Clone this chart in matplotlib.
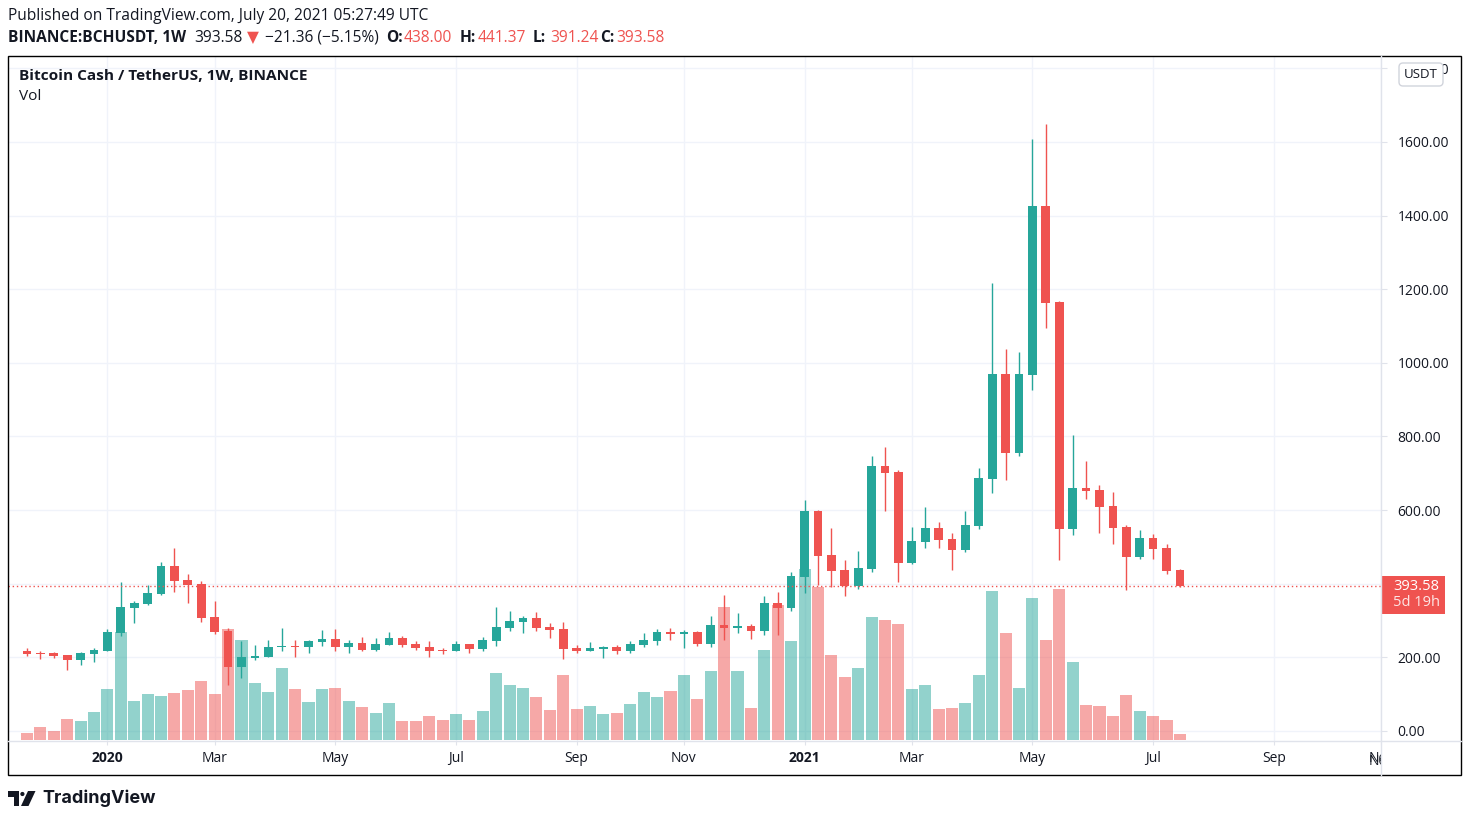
import numpy as np
import pandas as pd
import matplotlib
matplotlib.use("Agg")
import matplotlib.pyplot as plt
import matplotlib.transforms as mtransforms
from matplotlib.patches import Rectangle, FancyBboxPatch, Polygon, Circle

# BINANCE:BCHUSDT weekly candles, first bar = week of 2019-11-25
start_week = "2019-11-25"
opens = [217.3, 211.9, 211.9, 206.5, 193.7, 210.0, 218.1, 267.0, 335.0, 345.8,
         372.0, 448.2, 410.2, 399.3, 309.7, 271.7, 174.7, 198.3, 201.0, 229.0,
         230.9, 228.2, 241.8, 249.9, 228.2, 239.0, 220.0, 233.6, 252.6, 236.3,
         228.2, 220.0, 217.3, 236.3, 222.8, 244.5, 279.8, 296.1, 307.0, 282.5,
         277.0, 225.5, 217.3, 222.8, 228.2, 217.3, 233.6, 244.5, 268.9, 263.5,
         268.9, 236.3, 288.0, 279.8, 285.2, 271.7, 347.7, 334.0, 418.3, 597.6,
         478.1, 437.4, 393.9, 440.0, 719.9, 703.6, 456.4, 513.4, 551.5, 521.6,
         491.7, 556.9, 685.4, 969.8, 756.0, 967.0, 1426.0, 1165.4, 549.6, 660.1,
         654.7, 611.2, 554.2, 472.7, 524.3, 497.1, 438.00]
highs = [224.7, 217.3, 214.6, 206.5, 214.6, 225.5, 277.0, 404.7, 353.0, 396.6,
         459.0, 497.0, 426.5, 407.5, 353.0, 279.8, 244.5, 233.6, 247.2, 279.8,
         247.2, 247.2, 274.4, 277.0, 247.2, 255.4, 252.6, 268.9, 258.0, 244.5,
         244.5, 225.5, 244.5, 236.3, 255.4, 336.8, 326.0, 312.4, 323.3, 293.4,
         296.1, 233.6, 241.8, 230.9, 233.6, 244.5, 266.2, 277.0, 279.8, 274.4,
         271.7, 312.4, 369.4, 320.5, 290.7, 366.7, 377.6, 432.0, 627.5, 600.3,
         551.5, 464.5, 489.0, 747.0, 771.5, 709.0, 554.2, 608.5, 567.7, 537.9,
         597.6, 714.4, 1217.0, 1037.7, 1029.5, 1608.0, 1649.0, 1167.0, 804.0, 733.5,
         668.3, 649.2, 559.6, 546.0, 535.2, 508.0, 441.37]
lows = [204.6, 196.4, 199.1, 166.5, 180.0, 188.0, 218.1, 259.0, 294.0, 342.3,
        369.4, 377.6, 347.7, 296.0, 263.5, 125.8, 144.8, 192.9, 201.0, 217.3,
        201.0, 211.9, 230.9, 217.3, 211.9, 217.3, 217.3, 233.6, 228.2, 220.0,
        201.0, 209.2, 217.3, 211.9, 217.3, 230.9, 271.7, 266.2, 271.7, 252.6,
        195.6, 211.9, 217.3, 198.3, 209.2, 211.9, 228.2, 233.6, 247.2, 225.5,
        230.9, 228.2, 247.2, 266.2, 249.9, 260.8, 260.8, 326.0, 374.9, 396.6,
        391.2, 366.7, 385.7, 432.0, 597.6, 404.7, 453.7, 497.0, 497.0, 437.4,
        486.3, 548.7, 647.0, 681.8, 747.8, 926.3, 1094.7, 464.5, 532.4, 630.2,
        537.9, 508.0, 383.0, 467.2, 467.2, 426.5, 391.24]
closes = [210.0, 210.0, 204.6, 193.7, 211.9, 220.0, 268.9, 336.8, 347.7, 374.9,
          448.2, 407.5, 396.6, 307.0, 269.0, 174.7, 201.0, 203.7, 228.2, 231.7,
          229.0, 244.5, 249.9, 228.2, 239.0, 220.0, 236.3, 252.6, 233.6, 225.5,
          217.3, 218.1, 236.3, 222.8, 247.2, 282.5, 298.8, 307.0, 279.8, 274.4,
          222.8, 217.3, 225.5, 228.2, 217.3, 236.3, 247.2, 268.9, 263.5, 268.9,
          236.3, 288.0, 279.8, 285.2, 271.7, 347.7, 334.0, 421.0, 597.6, 475.4,
          434.6, 393.9, 442.8, 719.9, 700.9, 456.4, 516.1, 551.5, 518.8, 491.7,
          559.6, 687.3, 969.8, 756.0, 969.8, 1426.0, 1163.5, 549.6, 660.1, 652.0,
          608.5, 551.5, 472.7, 524.3, 494.4, 434.6, 393.58]
# volume, relative units
volumes = [7, 13, 9, 21, 19, 28, 51, 108, 39, 46, 44, 47, 50, 59, 46, 111, 100, 57,
           48, 72, 51, 38, 51, 52, 39, 33, 27, 37, 19, 19, 24, 20, 26, 20,
           29, 67, 55, 52, 43, 30, 65, 31, 34, 26, 27, 36, 48, 43, 49, 65, 41, 69,
           133, 69, 32, 90, 135, 99, 171, 153, 85, 63, 72, 123, 120, 116, 51, 55, 31,
           32, 37, 65, 149, 107, 52, 142, 100, 151, 78, 35, 34, 24, 45, 29, 24, 20, 6]
price_ticks = [0, 200, 400, 600, 800, 1000, 1200, 1400, 1600, 1800]
last_price = 393.58
countdown = "5d 19h"

UP = "#26a69a"
DOWN = "#ef5350"
TXT = "#131722"
GRID = "#f0f3fa"
SEP = "#e0e3eb"
FONT = ["Open Sans", "DejaVu Sans"]
plt.rcParams["font.family"] = FONT

W, H = 1470, 822
fig = plt.figure(figsize=(W / 100, H / 100), dpi=100)


def fx(px):
    return px / W


def fy(py):
    return 1 - py / H


# plot area in pixels
L, R, T, B = 8, 1381, 56, 741
rect = [fx(L), fy(B), fx(R) - fx(L), fy(T) - fy(B)]
vol_ax = fig.add_axes(rect)
vol_ax.set_axis_off()
vol_ax.set_ylim(-1, 684)
ax = fig.add_axes(rect)
ax.patch.set_alpha(0)

n = len(closes)
x = np.arange(n)
o = np.array(opens)
c = np.array(closes)
h = np.array(highs)
lo = np.array(lows)
up = c >= o
cols = np.where(up, UP, DOWN)

# volume bars use the price x axis and their own y scale
vol_trans = mtransforms.blended_transform_factory(ax.transData, vol_ax.transData)
ax.bar(x, volumes, width=0.9, color=cols, alpha=0.5, linewidth=0,
       transform=vol_trans, zorder=1)

# candles
ax.vlines(x, lo, h, colors=cols, linewidth=1, zorder=2)
body = np.maximum(np.abs(c - o), 3)
ax.bar(x, body, bottom=np.minimum(o, c), width=0.65, color=cols, linewidth=0, zorder=3)

ax.axhline(last_price, color=DOWN, lw=1, ls=(0, (1, 2)), zorder=4)

ax.set_xlim(-1.416, 100.9)
ax.set_ylim(-27.2, 1833.6)

# time axis: first weekly bar of every odd month
dates = pd.date_range(start_week, periods=105, freq="W-MON")
tick_idx = [i for i in range(1, len(dates))
            if dates[i].month != dates[i - 1].month and dates[i].month % 2 == 1]
tick_lab = [str(dates[i].year) if dates[i].month == 1 else dates[i].strftime("%b")
            for i in tick_idx]
ax.set_xticks(tick_idx)
ax.set_xticklabels(tick_lab)
for t, lab in zip(ax.get_xticklabels(), tick_lab):
    if lab.isdigit():
        t.set_fontweight("bold")
ax.tick_params(axis="x", length=3, color=SEP, pad=4, labelsize=10, labelcolor=TXT)

# the 400 label sits under the last-price tag, as on the reference
ax.yaxis.tick_right()
ax.set_yticks(price_ticks)
ax.set_yticklabels(["" if v == 400 else f"{v:.2f}" for v in price_ticks])
ax.tick_params(axis="y", length=4, color=SEP, pad=8, labelsize=10, labelcolor=TXT)

ax.grid(True, color=GRID, lw=1, zorder=0)
ax.set_axisbelow(True)
for s in ax.spines.values():
    s.set_visible(False)

# month label cut by the price scale: drawn, then partly covered below
pix = mtransforms.IdentityTransform()
tick_top = ax.get_xaxis_transform()
for i in [i for i in tick_idx if i > 100.9]:
    ax.text(i, -0.0195, dates[i].strftime("%b"), ha="center", va="top",
            fontsize=10, color=TXT, transform=tick_top, clip_on=False)
fig.add_artist(Rectangle((R + 0.5, H - 774), 1460 - R, 774 - B - 1, fc="white", ec="none",
                         transform=pix, zorder=3))

# frame and separators
fig.add_artist(Rectangle((8, H - 775), 1453, 719, fill=False, ec="#000000", lw=1,
                         transform=pix, zorder=4))
fig.add_artist(plt.Line2D([R, R], [H - 775, H - 56], color=SEP, lw=1, transform=pix, zorder=4))
fig.add_artist(plt.Line2D([8, 1461], [H - B, H - B], color=SEP, lw=1, transform=pix, zorder=4))

# last price tag
ppu = (ax.get_ylim()[1] - ax.get_ylim()[0]) / (B - T)
trans_y = ax.get_yaxis_transform()
ax.add_patch(FancyBboxPatch((1.0, last_price - 27.5 * ppu), 64 / (R - L), 38 * ppu,
                            boxstyle="square,pad=0", fc=DOWN, ec="none",
                            transform=trans_y, clip_on=False, zorder=5))
ax.text(1 + 35 / (R - L), last_price, f"{last_price:.2f}", ha="center", va="center",
        color="white", fontsize=10.5, transform=trans_y, clip_on=False, zorder=6)
ax.text(1 + 35 / (R - L), last_price - 16 * ppu, countdown, ha="center", va="center",
        color="white", alpha=0.85, fontsize=10.5, transform=trans_y, clip_on=False, zorder=6)

# currency badge
fig.add_artist(FancyBboxPatch((1399, H - 86), 44, 23, boxstyle="round,pad=0,rounding_size=4",
                              fc="white", ec="#d1d4dc", lw=1, transform=pix, zorder=7))
fig.text(fx(1421), fy(74.5), "USDT", ha="center", va="center", fontsize=9.5, color=TXT, zorder=8)

# headers
fig.text(fx(8), fy(16), "Published on TradingView.com, July 20, 2021 05:27:49 UTC",
         ha="left", va="center", fontsize=11.2, color=TXT)
segments = [
    (8, "BINANCE:BCHUSDT, 1W", TXT, "bold"),
    (194, "393.58", TXT, "normal"),
    (247, "\u25bc", DOWN, "normal"),
    (265, "\u221221.36 (\u22125.15%)", TXT, "normal"),
    (386, "O:", TXT, "bold"),
    (404, "438.00", DOWN, "normal"),
    (460, "H:", TXT, "bold"),
    (478, "441.37", DOWN, "normal"),
    (533, "L:", TXT, "bold"),
    (550, "391.24", DOWN, "normal"),
    (600, "C:", TXT, "bold"),
    (616, "393.58", DOWN, "normal"),
]
for px, s, col, wt in segments:
    fig.text(fx(px), fy(38), s, ha="left", va="center", fontsize=11.2, color=col, fontweight=wt)

fig.text(fx(19), fy(76), "Bitcoin Cash / TetherUS, 1W, BINANCE", ha="left", va="center",
         fontsize=11.1, color=TXT, fontweight="bold")
fig.text(fx(19), fy(97), "Vol", ha="left", va="center", fontsize=11.1, color=TXT)

# TradingView logo
logo = "#131722"
fig.add_artist(Polygon([(8, H - 791), (19.3, H - 791), (19.3, H - 806), (14, H - 806),
                        (14, H - 797), (8, H - 797)], closed=True, fc=logo, ec="none", transform=pix))
fig.add_artist(Circle((22.4, H - 794), 2.1, fc=logo, ec="none", transform=pix))
fig.add_artist(Polygon([(28, H - 791), (35.5, H - 791), (28.5, H - 806), (21, H - 806)],
                       closed=True, fc=logo, ec="none", transform=pix))
fig.text(fx(42), fy(798), "TradingView", ha="left", va="center", fontsize=13,
         fontweight="bold", color=logo, family=["Inter", "DejaVu Sans"])

fig.savefig("out.png", dpi=100)
